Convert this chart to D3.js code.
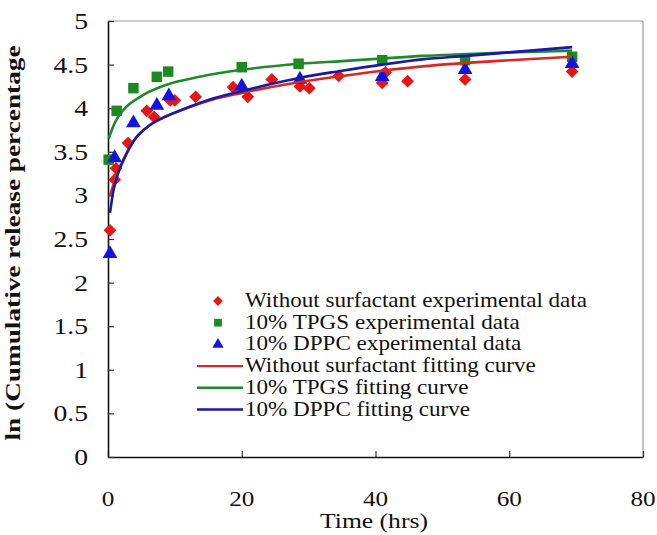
<!DOCTYPE html>
<html>
<head>
<meta charset="utf-8">
<script src="https://cdn.jsdelivr.net/npm/d3@7"></script>
<style>
  body { margin: 0; background: #fff; }
  text { fill: #111; }
</style>
</head>
<body>
<div id="chart"></div>
<script>
// experimental data, time (hrs) and ln(cumulative release %)
var noSurfT = [0.3, 1.0, 1.2, 3.0, 5.8, 6.9, 9.3, 10.0, 13.1, 18.7, 20.9, 24.5, 28.7, 30.1, 34.5, 41.0, 41.5, 44.8, 53.4, 69.4];
var noSurfV = [2.60, 3.18, 3.31, 3.60, 3.97, 3.90, 4.09, 4.09, 4.13, 4.24, 4.13, 4.33, 4.25, 4.23, 4.37, 4.29, 4.41, 4.31, 4.33, 4.42];

var tpgsT = [0.1, 1.3, 3.8, 7.3, 9.0, 20.0, 28.5, 41.0, 53.4, 69.4];
var tpgsV = [3.41, 3.97, 4.23, 4.36, 4.42, 4.47, 4.51, 4.55, 4.55, 4.59];

var dppcT = [0.3, 1.0, 3.8, 7.3, 9.1, 20.0, 28.7, 41.0, 53.4, 69.4];
var dppcV = [2.33, 3.43, 3.83, 4.03, 4.14, 4.25, 4.33, 4.36, 4.44, 4.51];

// fitting curves
var fitNoSurfT = [0.3, 0.8, 1.5, 2.3, 3.8, 5.8, 8.2, 10.7, 15.7, 19.7, 25.7, 28.7, 35, 41, 47, 53.6, 60, 69.4];
var fitNoSurfV = [3.00, 3.12, 3.28, 3.41, 3.62, 3.78, 3.89, 3.97, 4.10, 4.17, 4.26, 4.30, 4.37, 4.43, 4.48, 4.52, 4.55, 4.59];

var fitTpgsT = [0.1, 1.0, 2.3, 4.8, 8.8, 13.7, 20, 28.7, 35, 41, 47, 53.6, 60, 69.4];
var fitTpgsV = [3.65, 3.83, 3.98, 4.13, 4.27, 4.36, 4.44, 4.51, 4.54, 4.57, 4.60, 4.62, 4.64, 4.66];

var fitDppcT = [0.3, 0.8, 1.5, 2.3, 3.8, 5.8, 8.2, 10.7, 15.7, 19.7, 25.7, 28.7, 35, 41, 47, 53.6, 60, 69.4];
var fitDppcV = [2.80, 3.05, 3.25, 3.40, 3.62, 3.78, 3.89, 3.97, 4.11, 4.19, 4.30, 4.35, 4.43, 4.50, 4.56, 4.60, 4.64, 4.70];

var xTicks = [0, 20, 40, 60, 80];
var yTicks = [0, 0.5, 1, 1.5, 2, 2.5, 3, 3.5, 4, 4.5, 5];
var yTickLabels = ["0", "0.5", "1", "1.5", "2", "2.5", "3", "3.5", "4", "4.5", "5"];

var legendLabels = [
  "Without surfactant experimental data",
  "10% TPGS experimental data",
  "10% DPPC experimental data",
  "Without surfactant fitting curve",
  "10% TPGS fitting curve",
  "10% DPPC fitting curve"
];

var red = "#e81515", green = "#1d8a1d", blue = "#1414e0";
var redLine = "#d42a22", greenLine = "#1f8a2a", blueLine = "#1a1aa8";

var svg = d3.select("#chart").append("svg")
  .attr("width", 657)
  .attr("height", 535)
  .attr("font-family", "'Liberation Serif', 'Times New Roman', Times, serif");

var x = d3.scaleLinear().domain([0, 80]).range([108, 643]);
var y = d3.scaleLinear().domain([0, 5]).range([457, 21]);

// frame
svg.append("line").attr("x1", x(0)).attr("x2", x(80)).attr("y1", y(5)).attr("y2", y(5))
  .attr("stroke", "#999").attr("stroke-width", 1.2);
svg.append("line").attr("x1", x(80)).attr("x2", x(80)).attr("y1", y(5)).attr("y2", y(0))
  .attr("stroke", "#999").attr("stroke-width", 1.2);

// axes with inward ticks
svg.append("g")
  .attr("transform", "translate(0," + y(0) + ")")
  .call(d3.axisBottom(x).tickValues(xTicks).tickSize(-6).tickSizeOuter(0).tickFormat(""))
  .call(function(g){
    g.select(".domain").attr("stroke", "#111").attr("stroke-width", 1.6);
    g.selectAll(".tick line").attr("stroke", "#333").attr("stroke-width", 1.2);
  });

svg.append("g")
  .attr("transform", "translate(" + x(0) + ",0)")
  .call(d3.axisLeft(y).tickValues(yTicks).tickSize(-6).tickSizeOuter(0).tickFormat(""))
  .call(function(g){
    g.select(".domain").attr("stroke", "#111").attr("stroke-width", 1.6);
    g.selectAll(".tick line").attr("stroke", "#333").attr("stroke-width", 1.2);
  });

// tick labels
svg.selectAll(".xlab")
  .data(xTicks)
  .enter().append("text")
    .attr("class", "xlab")
    .attr("text-anchor", "middle")
    .attr("font-size", 21)
    .attr("transform", function(d){ return "translate(" + x(d) + ",506) scale(1.2,1)"; })
    .text(function(d){ return d; });

svg.selectAll(".ylab")
  .data(yTicks)
  .enter().append("text")
    .attr("class", "ylab")
    .attr("text-anchor", "end")
    .attr("font-size", 24)
    .attr("transform", function(d){ return "translate(88," + (y(d) + 8) + ") scale(1.15,1)"; })
    .text(function(d, i){ return yTickLabels[i]; });

// axis titles
svg.append("text")
  .attr("text-anchor", "middle")
  .attr("font-size", 21)
  .attr("transform", "translate(374,528) scale(1.22,1)")
  .text("Time (hrs)");

svg.append("text")
  .attr("text-anchor", "middle")
  .attr("font-size", 21)
  .attr("font-weight", "bold")
  .attr("textLength", 395)
  .attr("lengthAdjust", "spacingAndGlyphs")
  .attr("transform", "translate(20,243) rotate(-90)")
  .text("ln (Cumulative release percentage");

// markers
var diamond = d3.symbol().type(d3.symbolSquare).size(82);
var square = d3.symbol().type(d3.symbolSquare).size(110);
var triangle = d3.symbol().type(d3.symbolTriangle).size(95);

function pointsOf(ts, vs) {
  return ts.map(function(t, i){ return [t, vs[i]]; });
}

function drawMarks(data, sym, color, rot) {
  svg.append("g").selectAll("path")
    .data(data)
    .enter().append("path")
      .attr("d", sym)
      .attr("fill", color)
      .attr("transform", function(d){
        return "translate(" + x(d[0]) + "," + y(d[1]) + ") rotate(" + (rot || 0) + ")";
      });
}

drawMarks(pointsOf(noSurfT, noSurfV), diamond, red, 45);
drawMarks(pointsOf(tpgsT, tpgsV), square, green);
drawMarks(pointsOf(dppcT, dppcV), triangle, blue);

// fitting curves
var line = d3.line()
  .x(function(d){ return x(d[0]); })
  .y(function(d){ return y(d[1]); })
  .curve(d3.curveMonotoneX);

function drawCurve(data, color) {
  svg.append("path")
    .datum(data)
    .attr("d", line)
    .attr("fill", "none")
    .attr("stroke", color)
    .attr("stroke-width", 2.6);
}

drawCurve(pointsOf(fitNoSurfT, fitNoSurfV), redLine);
drawCurve(pointsOf(fitTpgsT, fitTpgsV), greenLine);
drawCurve(pointsOf(fitDppcT, fitDppcV), blueLine);

// legend
var legendSyms = [
  d3.symbol().type(d3.symbolSquare).size(48),
  d3.symbol().type(d3.symbolSquare).size(60),
  d3.symbol().type(d3.symbolTriangle).size(55)
];
var legendColors = [red, green, blue, redLine, greenLine, blueLine];

var legend = svg.append("g");
legendLabels.forEach(function(label, i){
  var cy = 301 + i * 21.7;
  if (i < 3) {
    legend.append("path")
      .attr("d", legendSyms[i])
      .attr("fill", legendColors[i])
      .attr("transform", "translate(218," + cy + ")" + (i === 0 ? " rotate(45)" : ""));
  } else {
    legend.append("line")
      .attr("x1", 197).attr("x2", 243)
      .attr("y1", cy).attr("y2", cy)
      .attr("stroke", legendColors[i])
      .attr("stroke-width", 2.4);
  }
  legend.append("text")
    .attr("font-size", 21)
    .attr("transform", "translate(245," + (cy + 6) + ") scale(1.1,1)")
    .text(label);
});
</script>
</body>
</html>
